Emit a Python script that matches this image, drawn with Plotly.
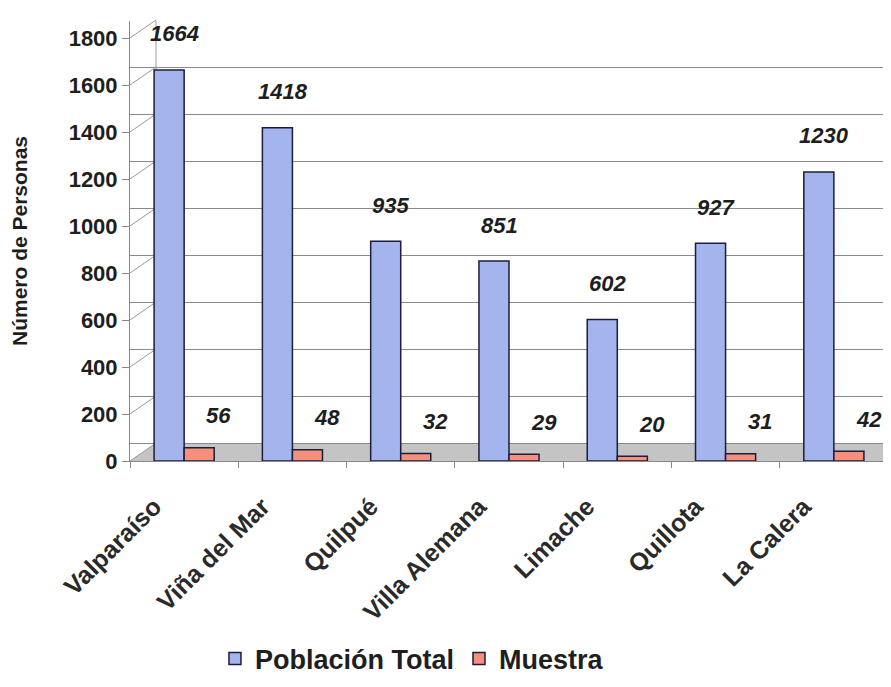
import plotly.graph_objects as go

categories = ["Valparaíso", "Viña del Mar", "Quilpué", "Villa Alemana", "Limache", "Quillota", "La Calera"]
poblacion_total = [1664, 1418, 935, 851, 602, 927, 1230]
muestra = [56, 48, 32, 29, 20, 31, 42]
y_ticks = [0, 200, 400, 600, 800, 1000, 1200, 1400, 1600, 1800]

W, H = 891, 687
L, R, T, B = 122, 11, 13, 234
plot_h = H - T - B
px_per_unit = 423 / 1800.0
y_max = plot_h / px_per_unit
back_shift = 18 / px_per_unit

FONT = "Liberation Sans, Arial, sans-serif"
BLUE = "#A4B4EC"
RED = "#F4907C"
EDGE = "#1C1C3C"
TXT = "#1E1E1E"

fig = go.Figure()
fig.add_trace(go.Bar(
    x=categories, y=poblacion_total, name="Población Total",
    marker=dict(color=BLUE, line=dict(color=EDGE, width=1.5)),
))
fig.add_trace(go.Bar(
    x=categories, y=muestra, name="Muestra",
    marker=dict(color=RED, line=dict(color=EDGE, width=1.5)),
))
# invisible trace so that the back-wall grid axis is drawn
fig.add_trace(go.Scatter(x=categories, y=[None] * len(categories), yaxis="y2",
                         showlegend=False, hoverinfo="skip", mode="lines"))

annotations = []
for i, (p, m) in enumerate(zip(poblacion_total, muestra)):
    annotations.append(dict(x=i - 0.09, y=p, xref="x", yref="y", text=f"<b><i>{p}</i></b>",
                            showarrow=False, yshift=36, yanchor="middle",
                            font=dict(family=FONT, size=22, color=TXT)))
    annotations.append(dict(x=i + 0.32, y=m, xref="x", yref="y", text=f"<b><i>{m}</i></b>",
                            showarrow=False, yshift=32, yanchor="middle",
                            font=dict(family=FONT, size=22, color=TXT)))

# floor and back wall decoration (paper coordinates)
floor_back = 18 / plot_h
wall_x = 26 / (W - L - R)
shapes = [
    dict(type="path", xref="paper", yref="paper",
         path=f"M 0 0 L {wall_x} {floor_back} L {wall_x} 1 L 0 1 Z",
         fillcolor="white", line=dict(width=0), layer="between"),
    dict(type="path", xref="paper", yref="paper",
         path=f"M 0 0 L 1 0 L 1 {floor_back} L {wall_x} {floor_back} Z",
         fillcolor="#C4C4C4", line=dict(width=0), layer="between"),
    dict(type="line", xref="paper", yref="paper", x0=wall_x, x1=wall_x, y0=floor_back, y1=1,
         line=dict(color="#9A9A9A", width=1), layer="between"),
]
for v in y_ticks:
    y0 = v / y_max
    y1 = (v + back_shift) / y_max
    shapes.append(dict(type="line", xref="paper", yref="paper", x0=0, x1=wall_x, y0=y0, y1=y1,
                       line=dict(color="#9A9A9A", width=1), layer="between"))

fig.update_layout(
    width=W, height=H,
    margin=dict(l=L, r=R, t=T, b=B),
    paper_bgcolor="white", plot_bgcolor="white",
    barmode="group", bargap=0.445, bargroupgap=0,
    font=dict(family=FONT, color=TXT),
    xaxis=dict(
        type="category", tickangle=-45, tickson="boundaries",
        ticks="outside", ticklen=6, tickcolor="#888",
        showline=True, linecolor="#888", linewidth=1,
        tickfont=dict(family=FONT, size=25, color="#2A2A2A", weight="bold"),
        ticklabelshift=-30, ticklabelstandoff=20,
        showgrid=False,
    ),
    yaxis=dict(
        range=[0, y_max], tickvals=y_ticks, ticks="outside", ticklen=7, tickcolor="#888",
        showline=True, linecolor="#888", linewidth=1,
        showgrid=False, zeroline=False,
        tickfont=dict(family=FONT, size=22, color=TXT, weight="bold"),
        title=dict(text="Número de Personas",
                   font=dict(family=FONT, size=21, color=TXT, weight="bold"),
                   standoff=36),
    ),
    yaxis2=dict(
        overlaying="y", range=[-back_shift, y_max - back_shift], tickvals=y_ticks,
        showgrid=True, gridcolor="#8A8A8A", gridwidth=1,
        showticklabels=False, ticks="", zeroline=False, showline=False,
    ),
    legend=dict(
        orientation="h", x=0.372, y=-0.45, xanchor="center", yanchor="middle",
        font=dict(family=FONT, size=27, color=TXT, weight="bold"),
        bgcolor="rgba(0,0,0,0)",
    ),
    annotations=annotations,
    shapes=shapes,
    showlegend=True,
)

fig.write_html("out.html")
